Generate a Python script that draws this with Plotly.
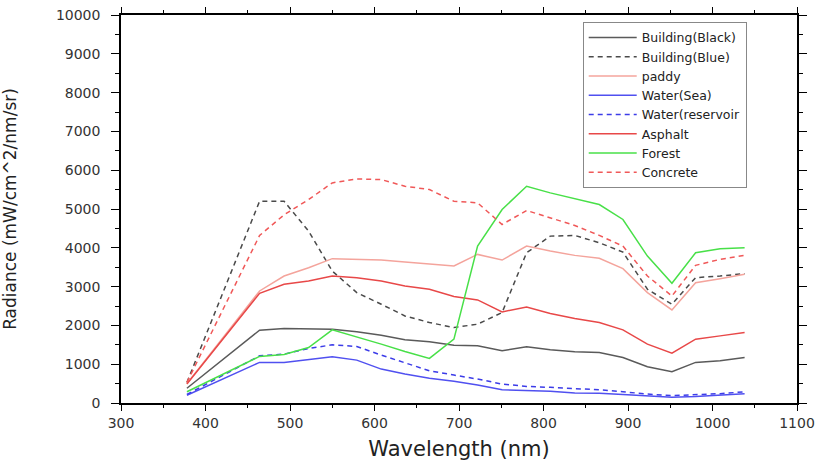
import plotly.graph_objects as go

wavelength = [378, 464, 493, 522, 550, 579, 608, 636, 665, 694, 722,
              751, 780, 808, 837, 866, 894, 923, 952, 980, 1009, 1038]

building_black = [380, 1877, 1920, 1910, 1902, 1834, 1748, 1628, 1577, 1491, 1474,
                  1346, 1448, 1371, 1320, 1302, 1174, 933, 805, 1046, 1088, 1174]
building_blue = [530, 5200, 5200, 4430, 3401, 2845, 2545, 2244, 2074, 1945, 2031,
                 2331, 3873, 4301, 4319, 4131, 3890, 2931, 2545, 3231, 3273, 3334]
paddy = [500, 2888, 3273, 3488, 3720, 3702, 3684, 3633, 3591, 3530, 3830,
         3684, 4044, 3915, 3805, 3728, 3462, 2845, 2398, 3102, 3205, 3316]
water_sea = [200, 1046, 1046, 1113, 1190, 1105, 874, 746, 635, 558, 463,
             342, 326, 300, 257, 250, 220, 180, 150, 170, 200, 240]
water_reservoir = [220, 1216, 1260, 1405, 1500, 1457, 1234, 1046, 831, 720, 617,
                   488, 428, 403, 377, 340, 290, 230, 190, 210, 240, 290]
asphalt = [490, 2828, 3059, 3145, 3273, 3231, 3145, 3016, 2931, 2743, 2656,
           2347, 2476, 2306, 2177, 2074, 1885, 1517, 1285, 1645, 1730, 1817]
forest = [290, 1200, 1250, 1431, 1885, 1705, 1517, 1328, 1148, 1645, 4044,
          4987, 5587, 5416, 5262, 5116, 4730, 3787, 3085, 3873, 3977, 4003]
concrete = [532, 4318, 4850, 5244, 5673, 5776, 5758, 5587, 5501, 5200, 5159,
            4601, 4961, 4773, 4576, 4319, 4044, 3273, 2758, 3548, 3702, 3805]

series = [
    ("Building(Black)", building_black, "#5a5a5a", "solid"),
    ("Building(Blue)", building_blue, "#4a4a4a", "5px,4px"),
    ("paddy", paddy, "#f4a49c", "solid"),
    ("Water(Sea)", water_sea, "#5050f0", "solid"),
    ("Water(reservoir", water_reservoir, "#3c3ce8", "5px,4px"),
    ("Asphalt", asphalt, "#e84848", "solid"),
    ("Forest", forest, "#48e048", "solid"),
    ("Concrete", concrete, "#f05858", "5px,4px"),
]

FONT = "DejaVu Sans, Verdana, sans-serif"

fig = go.Figure()
for name, vals, color, dash in series:
    fig.add_trace(go.Scatter(
        x=wavelength, y=vals, name=name, mode="lines",
        line=dict(color=color, width=1.5, dash=dash),
    ))

axis_common = dict(
    showline=True, linecolor="black", linewidth=1.5, mirror="allticks",
    ticks="outside", tickwidth=1.2, tickcolor="black",
    showgrid=False, zeroline=False, automargin=False,
    tickfont=dict(family=FONT, size=14, color="#333"),
)

fig.update_layout(
    width=825, height=461,
    margin=dict(l=121, r=28, t=15, b=58),
    paper_bgcolor="white", plot_bgcolor="white",
    font=dict(family=FONT, color="#222"),
    xaxis=dict(
        range=[300, 1100], tickmode="linear", tick0=300, dtick=100,
        tickformat="d", ticklen=6,
        minor=dict(dtick=50, ticks="outside", ticklen=3, tickcolor="black"),
        title=dict(text="Wavelength (nm)", font=dict(family=FONT, size=21, color="#222"), standoff=12),
        **axis_common,
    ),
    yaxis=dict(
        range=[0, 10000], tickmode="linear", tick0=0, dtick=1000,
        tickformat="d", ticklen=8, ticklabelstandoff=8,
        minor=dict(dtick=500, ticks="outside", ticklen=4, tickcolor="black"),
        title=dict(text="Radiance (mW/cm^2/nm/sr)", font=dict(family=FONT, size=17, color="#222"), standoff=38),
        **axis_common,
    ),
    legend=dict(
        x=0.683, y=0.982, xanchor="left", yanchor="top",
        bgcolor="white", bordercolor="#888", borderwidth=1,
        font=dict(family=FONT, size=12.5, color="#222"),
        tracegroupgap=0, itemwidth=48,
    ),
    showlegend=True,
)

fig.write_html("out.html")
